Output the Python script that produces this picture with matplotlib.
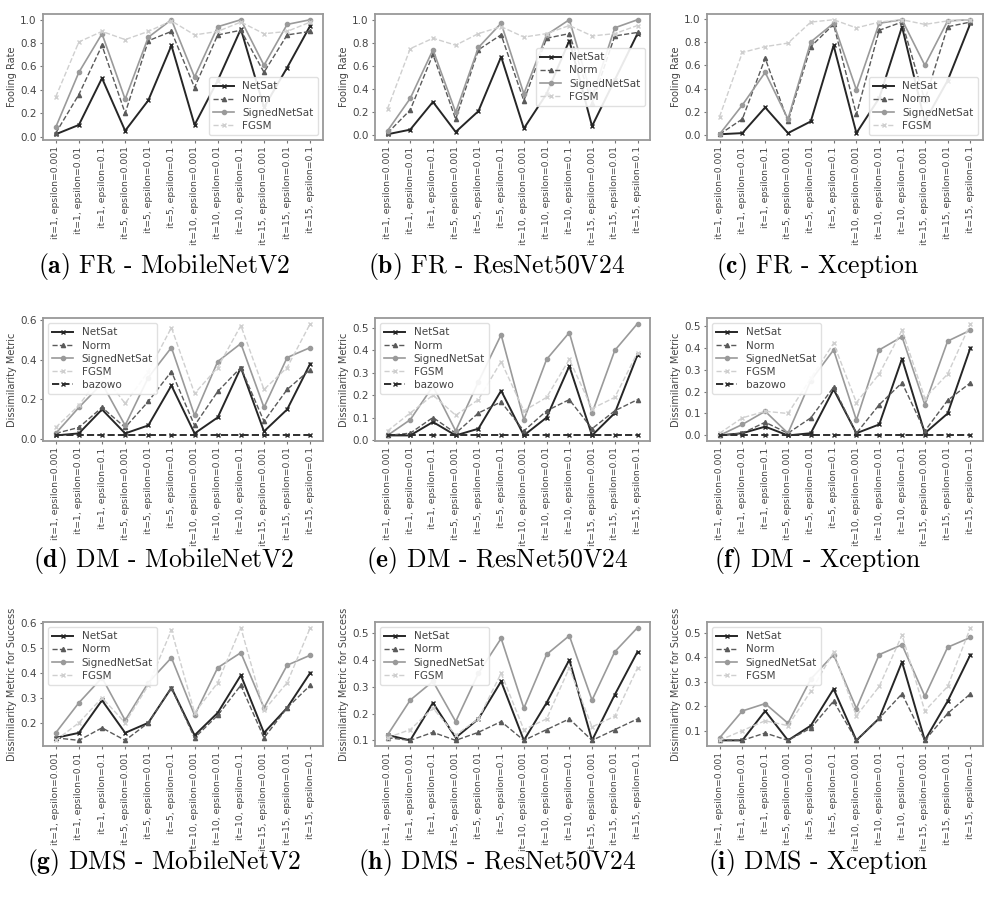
"""
Fooling rate / dissimilarity metric grid for NetSat vs. baselines
"""

import matplotlib
matplotlib.use("Agg")
import matplotlib.pyplot as plt
from matplotlib.ticker import MultipleLocator


# x categories (iterations, epsilon)
labels = [
    "it=1, epsilon=0.001", "it=1, epsilon=0.01", "it=1, epsilon=0.1",
    "it=5, epsilon=0.001", "it=5, epsilon=0.01", "it=5, epsilon=0.1",
    "it=10, epsilon=0.001", "it=10, epsilon=0.01", "it=10, epsilon=0.1",
    "it=15, epsilon=0.001", "it=15, epsilon=0.01", "it=15, epsilon=0.1",
]

# ---- FR (fooling rate) ----
fr_mob_netsat = [0.02, 0.10, 0.50, 0.05, 0.31, 0.78, 0.10, 0.48, 0.92, 0.25, 0.59, 0.95]
fr_mob_norm = [0.03, 0.36, 0.78, 0.20, 0.82, 0.90, 0.42, 0.87, 0.91, 0.55, 0.87, 0.90]
fr_mob_signed = [0.08, 0.55, 0.88, 0.32, 0.85, 1.00, 0.51, 0.94, 1.00, 0.61, 0.96, 1.00]
fr_mob_fgsm = [0.34, 0.81, 0.90, 0.83, 0.90, 0.99, 0.87, 0.90, 0.98, 0.88, 0.90, 0.98]

fr_res_netsat = [0.01, 0.05, 0.29, 0.03, 0.21, 0.68, 0.06, 0.36, 0.82, 0.08, 0.48, 0.88]
fr_res_norm = [0.02, 0.22, 0.70, 0.14, 0.74, 0.87, 0.30, 0.84, 0.88, 0.28, 0.86, 0.89]
fr_res_signed = [0.04, 0.32, 0.74, 0.20, 0.76, 0.97, 0.36, 0.87, 1.00, 0.33, 0.93, 1.00]
fr_res_fgsm = [0.23, 0.75, 0.84, 0.78, 0.88, 0.94, 0.85, 0.88, 0.95, 0.86, 0.88, 0.95]

fr_xce_netsat = [0.01, 0.02, 0.24, 0.02, 0.12, 0.77, 0.02, 0.32, 0.93, 0.12, 0.47, 0.96]
fr_xce_norm = [0.01, 0.14, 0.66, 0.12, 0.76, 0.95, 0.18, 0.90, 0.97, 0.30, 0.93, 0.97]
fr_xce_signed = [0.01, 0.26, 0.54, 0.14, 0.80, 0.96, 0.39, 0.96, 0.99, 0.60, 0.98, 0.99]
fr_xce_fgsm = [0.16, 0.71, 0.76, 0.79, 0.97, 0.99, 0.92, 0.97, 0.99, 0.95, 0.98, 0.99]

# ---- DM (dissimilarity metric) ----
dm_mob_netsat = [0.02, 0.03, 0.15, 0.03, 0.07, 0.27, 0.03, 0.11, 0.36, 0.04, 0.15, 0.38]
dm_mob_norm = [0.03, 0.06, 0.16, 0.06, 0.19, 0.34, 0.07, 0.24, 0.36, 0.09, 0.25, 0.35]
dm_mob_signed = [0.03, 0.16, 0.28, 0.07, 0.31, 0.46, 0.12, 0.39, 0.48, 0.16, 0.41, 0.46]
dm_mob_fgsm = [0.06, 0.17, 0.33, 0.18, 0.34, 0.56, 0.23, 0.36, 0.57, 0.25, 0.36, 0.58]
dm_mob_bazowo = [0.02] * 12

dm_res_netsat = [0.02, 0.02, 0.08, 0.02, 0.05, 0.22, 0.02, 0.10, 0.33, 0.02, 0.12, 0.38]
dm_res_norm = [0.02, 0.03, 0.10, 0.03, 0.12, 0.17, 0.04, 0.13, 0.18, 0.05, 0.13, 0.18]
dm_res_signed = [0.02, 0.09, 0.24, 0.04, 0.26, 0.47, 0.09, 0.36, 0.48, 0.12, 0.40, 0.52]
dm_res_fgsm = [0.04, 0.12, 0.20, 0.11, 0.18, 0.35, 0.13, 0.19, 0.36, 0.14, 0.19, 0.39]
dm_res_bazowo = [0.02] * 12

dm_xce_netsat = [0.00, 0.01, 0.04, 0.00, 0.01, 0.21, 0.01, 0.05, 0.35, 0.01, 0.10, 0.40]
dm_xce_norm = [0.00, 0.01, 0.06, 0.01, 0.08, 0.22, 0.01, 0.14, 0.24, 0.02, 0.16, 0.24]
dm_xce_signed = [0.00, 0.05, 0.11, 0.01, 0.25, 0.39, 0.07, 0.39, 0.45, 0.14, 0.43, 0.48]
dm_xce_fgsm = [0.01, 0.08, 0.11, 0.10, 0.26, 0.42, 0.15, 0.28, 0.48, 0.17, 0.28, 0.51]
dm_xce_bazowo = [0.00] * 12

# ---- DMS (dissimilarity metric for success) ----
dms_mob_netsat = [0.14, 0.16, 0.29, 0.16, 0.20, 0.34, 0.15, 0.24, 0.39, 0.16, 0.26, 0.40]
dms_mob_norm = [0.14, 0.13, 0.18, 0.13, 0.20, 0.34, 0.14, 0.23, 0.35, 0.14, 0.26, 0.35]
dms_mob_signed = [0.16, 0.28, 0.38, 0.21, 0.36, 0.46, 0.23, 0.42, 0.48, 0.26, 0.43, 0.47]
dms_mob_fgsm = [0.13, 0.20, 0.30, 0.20, 0.35, 0.57, 0.24, 0.36, 0.58, 0.25, 0.36, 0.58]

dms_res_netsat = [0.12, 0.10, 0.24, 0.11, 0.18, 0.32, 0.10, 0.24, 0.40, 0.10, 0.27, 0.43]
dms_res_norm = [0.11, 0.10, 0.13, 0.10, 0.13, 0.17, 0.10, 0.14, 0.18, 0.10, 0.14, 0.18]
dms_res_signed = [0.12, 0.25, 0.32, 0.17, 0.35, 0.48, 0.22, 0.42, 0.49, 0.25, 0.43, 0.52]
dms_res_fgsm = [0.11, 0.14, 0.22, 0.12, 0.18, 0.35, 0.14, 0.18, 0.37, 0.15, 0.19, 0.37]

dms_xce_netsat = [0.06, 0.06, 0.18, 0.06, 0.12, 0.27, 0.06, 0.15, 0.38, 0.06, 0.22, 0.41]
dms_xce_norm = [0.06, 0.06, 0.09, 0.06, 0.11, 0.22, 0.06, 0.15, 0.25, 0.06, 0.17, 0.25]
dms_xce_signed = [0.07, 0.18, 0.21, 0.13, 0.31, 0.41, 0.19, 0.41, 0.45, 0.24, 0.44, 0.48]
dms_xce_fgsm = [0.06, 0.10, 0.14, 0.12, 0.26, 0.42, 0.16, 0.28, 0.49, 0.18, 0.28, 0.52]


STYLES = {
    'NetSat':       dict(color='#262626', ls='-',  marker='x', lw=1.4, ms=3),
    'Norm':         dict(color='#5a5a5a', ls='--', marker='^', lw=1.0, ms=3),
    'SignedNetSat': dict(color='#9a9a9a', ls='-',  marker='o', lw=1.2, ms=3),
    'FGSM':         dict(color='#cfcfcf', ls='--', marker='x', lw=1.0, ms=3),
    'bazowo':       dict(color='#2e2e2e', ls='--', marker='x', lw=1.4, ms=3),
}

W, H = 984, 908
fig = plt.figure(figsize=(W / 100, H / 100), dpi=100)
plt.rcParams['mathtext.fontset'] = 'cm'

col_x = [(43, 323), (375, 650), (707, 983)]
row_y = [(14, 140), (318, 441), (622, 746)]
caption_y = [266, 560, 863]
caption_x = [164, 497, 818]


def add_panel(row, col, series, ylabel, legend_loc, step, caption):
    x0, x1 = col_x[col]
    top, bottom = row_y[row]
    ax = fig.add_axes([x0 / W, 1 - bottom / H, (x1 - x0) / W, (bottom - top) / H])
    x = list(range(len(labels)))
    for name, values in series:
        ax.plot(x, values, label=name, **STYLES[name])
    ax.set_xticks(x)
    ax.set_xticklabels(labels, rotation=90, fontsize=6.7, color='#444444')
    ax.yaxis.set_major_locator(MultipleLocator(step))
    ax.tick_params(axis='y', labelsize=7.5, labelcolor='#444444', length=2.5,
                   color='#777777', pad=2)
    ax.tick_params(axis='x', length=2.5, color='#777777', pad=2)
    ax.set_ylabel(ylabel, fontsize=7, color='#444444', labelpad=2)
    for sp in ax.spines.values():
        sp.set_color('#999999')
        sp.set_linewidth(1.3)
    leg = ax.legend(loc=legend_loc, fontsize=7.5, framealpha=0.9,
                    handlelength=2.0, borderpad=0.4, labelspacing=0.3)
    leg.get_frame().set_edgecolor('#dddddd')
    for t in leg.get_texts():
        t.set_color('#444444')
    fig.text(caption_x[col] / W, 1 - caption_y[row] / H, caption,
             ha='center', va='center', fontsize=18.5, family='cmr10')
    return ax


add_panel(0, 0, [('NetSat', fr_mob_netsat), ('Norm', fr_mob_norm),
                 ('SignedNetSat', fr_mob_signed), ('FGSM', fr_mob_fgsm)],
          'Fooling Rate', 'lower right', 0.2, r'$\mathbf{(a)}$ FR - MobileNetV2')
add_panel(0, 1, [('NetSat', fr_res_netsat), ('Norm', fr_res_norm),
                 ('SignedNetSat', fr_res_signed), ('FGSM', fr_res_fgsm)],
          'Fooling Rate', 'center right', 0.2, r'$\mathbf{(b)}$ FR - ResNet50V24')
add_panel(0, 2, [('NetSat', fr_xce_netsat), ('Norm', fr_xce_norm),
                 ('SignedNetSat', fr_xce_signed), ('FGSM', fr_xce_fgsm)],
          'Fooling Rate', 'lower right', 0.2, r'$\mathbf{(c)}$ FR - Xception')

add_panel(1, 0, [('NetSat', dm_mob_netsat), ('Norm', dm_mob_norm),
                 ('SignedNetSat', dm_mob_signed), ('FGSM', dm_mob_fgsm),
                 ('bazowo', dm_mob_bazowo)],
          'Dissimilarity Metric', 'upper left', 0.2, r'$\mathbf{(d)}$ DM - MobileNetV2')
add_panel(1, 1, [('NetSat', dm_res_netsat), ('Norm', dm_res_norm),
                 ('SignedNetSat', dm_res_signed), ('FGSM', dm_res_fgsm),
                 ('bazowo', dm_res_bazowo)],
          'Dissimilarity Metric', 'upper left', 0.1, r'$\mathbf{(e)}$ DM - ResNet50V24')
add_panel(1, 2, [('NetSat', dm_xce_netsat), ('Norm', dm_xce_norm),
                 ('SignedNetSat', dm_xce_signed), ('FGSM', dm_xce_fgsm),
                 ('bazowo', dm_xce_bazowo)],
          'Dissimilarity Metric', 'upper left', 0.1, r'$\mathbf{(f)}$ DM - Xception')

add_panel(2, 0, [('NetSat', dms_mob_netsat), ('Norm', dms_mob_norm),
                 ('SignedNetSat', dms_mob_signed), ('FGSM', dms_mob_fgsm)],
          'Dissimilarity Metric for Success', 'upper left', 0.1,
          r'$\mathbf{(g)}$ DMS - MobileNetV2')
add_panel(2, 1, [('NetSat', dms_res_netsat), ('Norm', dms_res_norm),
                 ('SignedNetSat', dms_res_signed), ('FGSM', dms_res_fgsm)],
          'Dissimilarity Metric for Success', 'upper left', 0.1,
          r'$\mathbf{(h)}$ DMS - ResNet50V24')
add_panel(2, 2, [('NetSat', dms_xce_netsat), ('Norm', dms_xce_norm),
                 ('SignedNetSat', dms_xce_signed), ('FGSM', dms_xce_fgsm)],
          'Dissimilarity Metric for Success', 'upper left', 0.1,
          r'$\mathbf{(i)}$ DMS - Xception')

fig.savefig('out.png', dpi=100, facecolor='white')
